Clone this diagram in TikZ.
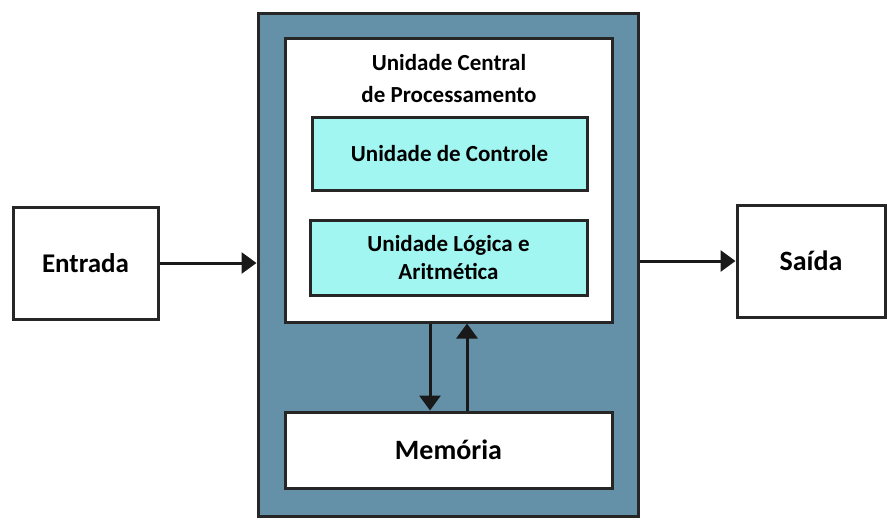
\documentclass[tikz,border=0pt]{standalone}
\usepackage{fontspec}
\setmainfont{Carlito}
\usetikzlibrary{arrows.meta, positioning, calc}

\definecolor{casing}{HTML}{6490A8}
\definecolor{unitfill}{HTML}{A2F6F1}

\begin{document}
\begin{tikzpicture}[x=0.5pt, y=-0.5pt,
    box/.style={draw=black!85, line width=1.5pt, fill=white, font=\bfseries, align=center, inner sep=0pt},
    unit/.style={box, fill=unitfill, font=\bfseries\fontsize{11.5}{14}\selectfont},
    link/.style={-{Triangle[length=7.5pt, width=10.5pt]}, line width=1.5pt, black!90}]
    \useasboundingbox (0,0) rectangle (887,527);

    % Computer casing
    \node[box, fill=casing, minimum width=190pt, minimum height=251.5pt] (pc) at (448,264.5) {};

    % Central processing unit
    \node[box, minimum width=163.5pt, minimum height=142pt] (cpu) at (448.5,180) {};
    \node[font=\bfseries\fontsize{11.5}{16}\selectfont, align=center] (cputitle) at (449,79)
        {Unidade Central\\de Processamento};
    \node[unit, minimum width=137.5pt, minimum height=36.5pt] (cu) at (449.5,153.5) {Unidade de Controle};
    \node[unit, minimum width=138.5pt, minimum height=37.5pt] (alu) at (448.5,257.5)
        {Unidade Lógica e\\Aritmética};

    % Memory
    \node[box, minimum width=163.5pt, minimum height=38pt, font=\bfseries\fontsize{14}{16}\selectfont] (mem) at (448.5,450) {Memória};

    % Input and output
    \node[box, minimum width=72.5pt, minimum height=56pt, font=\bfseries\fontsize{13.5}{16}\selectfont] (in) at (85.5,263) {Entrada};
    \node[box, minimum width=74pt, minimum height=56pt, font=\bfseries\fontsize{14}{16}\selectfont] (out) at (811,261) {Saída};

    % Connectors
    \coordinate (dn) at (430,0);
    \coordinate (up) at (467,0);
    \draw[link] (in.east) -- (in.east -| pc.west);
    \draw[link] (pc.east |- out.west) -- (out.west);
    \draw[link] (cpu.south -| dn) -- (mem.north -| dn);
    \draw[link] (mem.north -| up) -- (cpu.south -| up);
\end{tikzpicture}
\end{document}
